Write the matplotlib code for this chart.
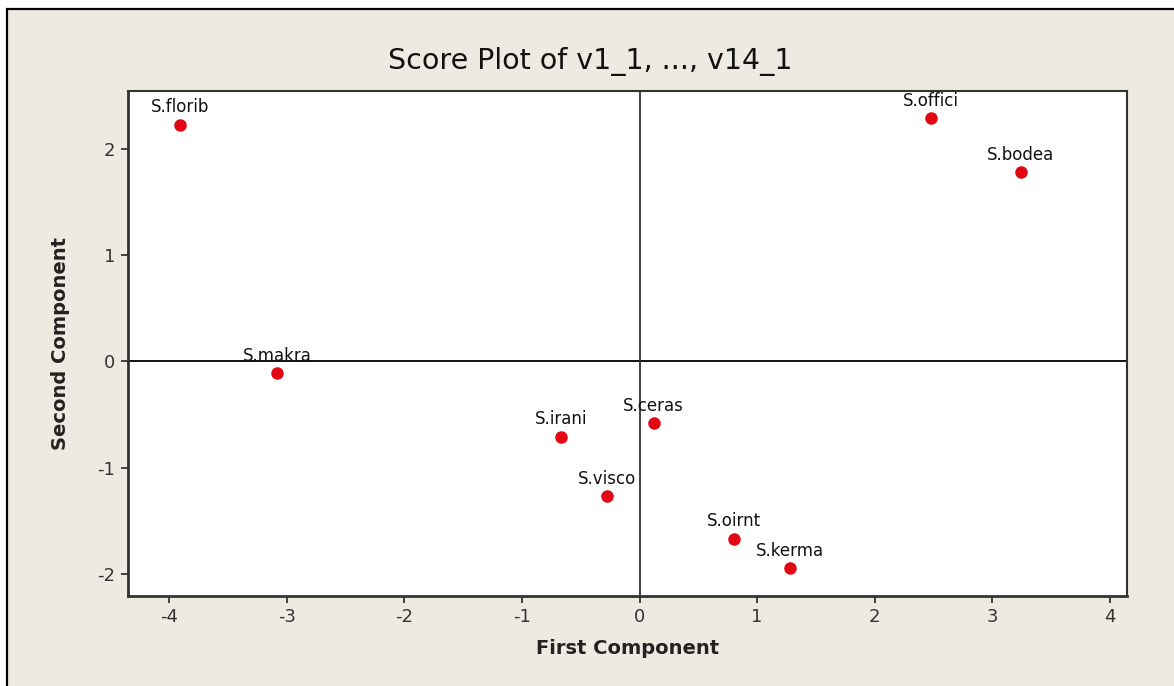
import matplotlib.pyplot as plt
from matplotlib.patches import Rectangle

plt.rcParams['axes.unicode_minus'] = False

# PCA scores
names = ['S.florib', 'S.makra', 'S.irani', 'S.visco', 'S.ceras',
         'S.oirnt', 'S.kerma', 'S.offici', 'S.bodea']
first = [-3.91, -3.08, -0.67, -0.28, 0.12, 0.80, 1.28, 2.48, 3.24]
second = [2.23, -0.11, -0.71, -1.27, -0.58, -1.67, -1.95, 2.29, 1.78]

xticks = [-4, -3, -2, -1, 0, 1, 2, 3, 4]
yticks = [-2, -1, 0, 1, 2]

W, H = 1174, 686
fig = plt.figure(figsize=(W / 100, H / 100), dpi=100, facecolor='white')

# beige panel with a black frame on the left and top
fig.patches.append(Rectangle((7 / W, -0.05), 1.2, (H - 9) / H + 0.05,
                             transform=fig.transFigure, facecolor='#EEEAE1',
                             edgecolor='black', linewidth=1.6, zorder=-10))

ax = fig.add_axes([128 / W, 1 - 596 / H, (1127 - 128) / W, (596 - 91) / H])
ax.set_facecolor('white')

ax.axhline(0, color='black', linewidth=1.3, zorder=1)
ax.axvline(0, color='#333333', linewidth=1.3, zorder=1)

ax.plot(first, second, 'o', color='#E30613', markersize=8, zorder=3)
for n, x, y in zip(names, first, second):
    ax.annotate(n, (x, y), xytext=(0, 12.5), textcoords='offset points',
                ha='center', va='center', fontsize=12, color='#111111')

ax.set_xlim(-4.35, 4.145)
ax.set_ylim(-2.21, 2.546)
ax.set_xticks(xticks)
ax.set_yticks(yticks)
ax.tick_params(direction='out', length=5, width=1.3, colors='#333333',
               labelsize=13, pad=4)
for s in ['left', 'bottom']:
    ax.spines[s].set_linewidth(2)
    ax.spines[s].set_color('#333333')
for s in ['top', 'right']:
    ax.spines[s].set_linewidth(1.5)
    ax.spines[s].set_color('#333333')

ax.set_xlabel('First Component', fontsize=14, fontweight='bold', labelpad=9,
              color='#222222')
ax.set_ylabel('Second Component', fontsize=14, fontweight='bold', labelpad=20,
              color='#222222')
fig.text(0.503, 1 - 62 / H, 'Score Plot of v1_1, ..., v14_1', ha='center',
         va='center', fontsize=20.5, color='#111111')

fig.savefig('out.png', dpi=100, facecolor=fig.get_facecolor())
